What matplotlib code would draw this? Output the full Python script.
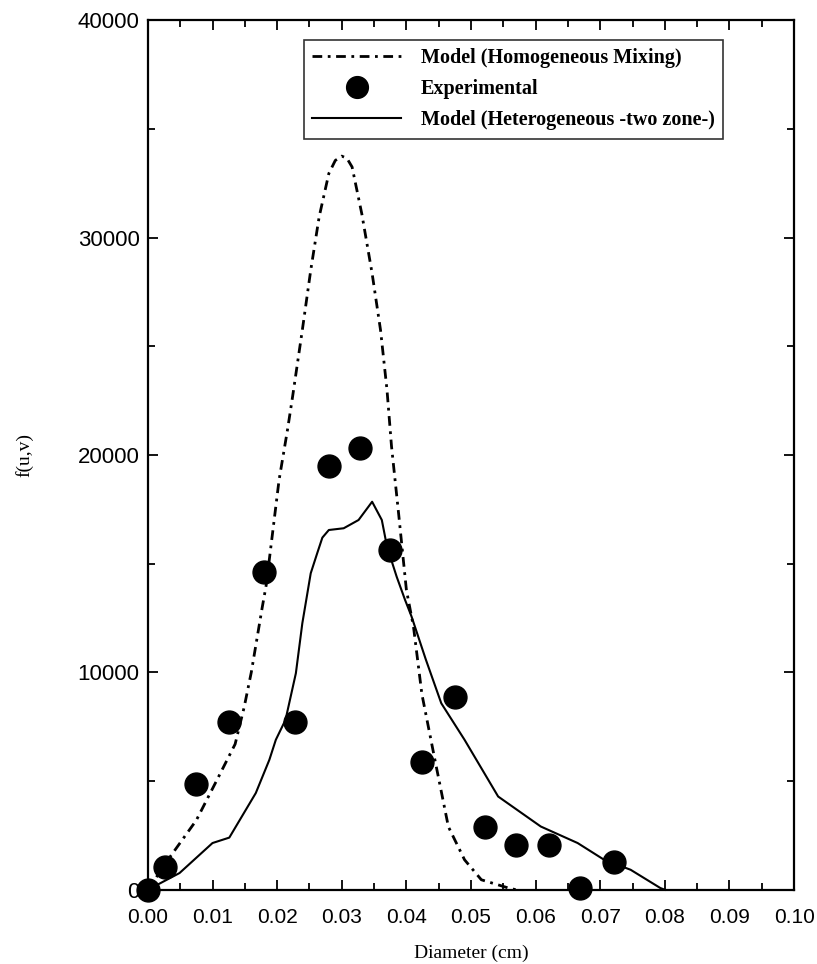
import matplotlib
matplotlib.use('Agg')

import matplotlib.pyplot as plt
from matplotlib.ticker import MultipleLocator

# homogeneous mixing model (dash-dot curve)
homo_x = [0.0, 0.0034, 0.0075, 0.0106, 0.0135, 0.0149, 0.0160, 0.0177, 0.0183,
          0.0203, 0.0216, 0.0224, 0.0239, 0.0252, 0.0265, 0.0280, 0.0290, 0.0300,
          0.0308, 0.0316, 0.0331, 0.0347, 0.0360, 0.0370, 0.0377, 0.0388, 0.0400,
          0.0411, 0.0424, 0.0444, 0.0465, 0.0490, 0.0516, 0.0557, 0.0570]
homo_y = [0, 1500, 3200, 5000, 6700, 8400, 10000, 13000, 14000,
          18850, 21150, 22700, 25750, 28500, 30950, 32950, 33550, 33750,
          33650, 33250, 31100, 28350, 25750, 23000, 20400, 17300, 13800,
          12100, 9000, 6000, 2900, 1380, 460, 90, 0]

# heterogeneous two-zone model (solid curve)
het_x = [0.0, 0.0049, 0.0100, 0.0126, 0.0167, 0.0188, 0.0198, 0.0213, 0.0229,
         0.0239, 0.0252, 0.0262, 0.0270, 0.0280, 0.0303, 0.0326, 0.0347,
         0.0362, 0.0370, 0.0385, 0.0398, 0.0408, 0.0430, 0.0454, 0.0490,
         0.0542, 0.0608, 0.0665, 0.0706, 0.0747, 0.0793, 0.0800]
het_y = [0, 770, 2150, 2400, 4450, 5980, 6900, 7820, 9960,
         12260, 14560, 15480, 16200, 16550, 16630, 17010, 17850,
         17010, 15790, 14400, 13330, 12570, 10600, 8580, 6900,
         4290, 2910, 2150, 1380, 920, 80, 0]

# experimental points
exp_x = [0.0, 0.0026, 0.0074, 0.0126, 0.0180, 0.0227, 0.0280, 0.0329,
         0.0374, 0.0424, 0.0475, 0.0522, 0.0570, 0.0621, 0.0669, 0.0721]
exp_y = [0, 1030, 4870, 7740, 14600, 7740, 19500, 20340,
         15630, 5900, 8860, 2910, 2070, 2070, 80, 1300]

fig = plt.figure(figsize=(8.17, 9.64), dpi=100)
ax = fig.add_axes([0.181, 0.077, 0.791, 0.902])

ax.plot(homo_x, homo_y, color='black', lw=2.0, dashes=(3.5, 2, 1, 2),
        label='Model (Homogeneous Mixing)', clip_on=False)
ax.plot(exp_x, exp_y, 'o', color='black', ms=16.5, ls='none',
        label='Experimental', clip_on=False, zorder=5)
ax.plot(het_x, het_y, color='black', lw=1.5,
        label='Model (Heterogeneous -two zone-)', clip_on=False)

ax.set_xlim(0, 0.1)
ax.set_ylim(0, 40000)
ax.xaxis.set_major_locator(MultipleLocator(0.01))
ax.xaxis.set_minor_locator(MultipleLocator(0.005))
ax.yaxis.set_major_locator(MultipleLocator(10000))
ax.yaxis.set_minor_locator(MultipleLocator(5000))
ax.xaxis.set_major_formatter(plt.FuncFormatter(lambda v, p: '%.2f' % v))

ax.tick_params(which='both', direction='in', top=True, right=True, width=1.3)
ax.tick_params(which='major', length=7)
ax.tick_params(which='minor', length=5)
ax.tick_params(axis='x', pad=13)
ax.tick_params(axis='y', pad=6)
for lab in ax.get_xticklabels():
    lab.set_fontfamily('Liberation Sans')
    lab.set_fontsize(15)
for lab in ax.get_yticklabels():
    lab.set_fontfamily('Liberation Sans')
    lab.set_fontsize(16)
for sp in ax.spines.values():
    sp.set_linewidth(1.6)

ax.set_xlabel('Diameter (cm)', family='Liberation Serif', fontsize=14,
              labelpad=13)
ax.set_ylabel('f(u,v)', family='Liberation Serif', fontsize=14,
              labelpad=32)

leg = ax.legend(loc='upper right', bbox_to_anchor=(0.89, 0.977),
                borderaxespad=0,
                prop={'family': 'Liberation Serif', 'weight': 'bold', 'size': 14.5},
                frameon=True, fancybox=False, edgecolor='black',
                handlelength=4.4, borderpad=0.4, labelspacing=0.55,
                handletextpad=1.0, markerscale=0.95)
leg.get_frame().set_linewidth(1.2)

plt.savefig('out.png', dpi=100)
